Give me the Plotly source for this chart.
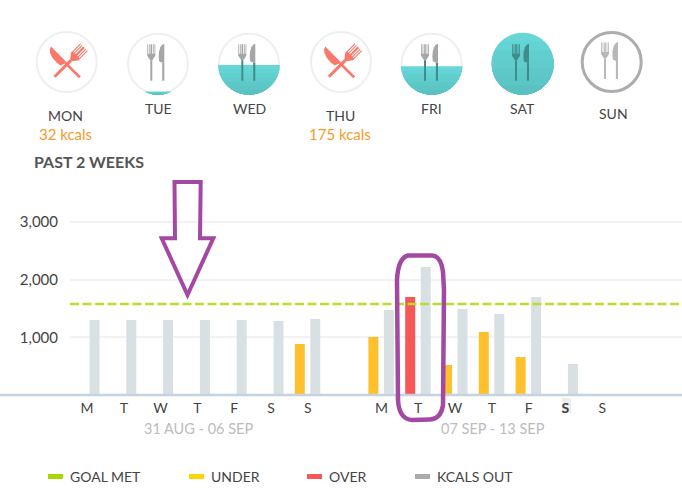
import numpy as np
import plotly.graph_objects as go

FONT = "Lato"

# chart values
slots = [0, 1, 2, 3, 4, 5, 6, 8, 9, 10, 11, 12, 13, 14]
day_letters = ["M", "T", "W", "T", "F", "S", "S", "M", "T", "W", "T", "F", "<b>S</b>", "S"]
kcals_under = [None, None, None, None, None, None, 885, 1007, None, 521, 1094, 660, None, None]
kcals_over = [None, None, None, None, None, None, None, None, 1701, None, None, None, None, None]
kcals_out = [1302, 1302, 1302, 1302, 1302, 1285, 1320, 1476, 2222, 1493, 1406, 1701, 538, None]
goal_kcals = 1580
y_ticks = [1000, 2000, 3000]
week_labels = ["31 AUG - 06 SEP", "07 SEP - 13 SEP"]

# top row of plates
plate_days = ["MON", "TUE", "WED", "THU", "FRI", "SAT", "SUN"]
plate_notes = ["32 kcals", "", "", "175 kcals", "", "", ""]
plate_states = ["over", "water", "water", "over", "water", "water", "today"]
plate_levels = [0, 0.05, 0.48, 0, 0.46, 1, 0]

legend_names = ["GOAL MET", "UNDER", "OVER", "KCALS OUT"]
legend_colors = ["#a8d800", "#ffd200", "#f75757", "#ababab"]

fig = go.Figure()

bar_w = 10 / 36.8
for vals, color, off in [
    (kcals_under, "#ffc02d", -13 / 36.8),
    (kcals_over, "#f75757", -13 / 36.8),
    (kcals_out, "#d8e0e3", 2.5 / 36.8),
]:
    fig.add_trace(go.Bar(x=slots, y=vals, width=bar_w, offset=off, marker_color=color,
                         marker_line_width=0, showlegend=False, hoverinfo="skip"))

# second pair of axes covers the whole page in pixels, for the decoration
fig.add_trace(go.Scatter(x=[0], y=[0], xaxis="x2", yaxis="y2", mode="markers",
                         marker_opacity=0, showlegend=False, hoverinfo="skip"))

shapes = []
notes = []


def poly(pts, color):
    path = "M" + " L".join(f"{x:.2f},{y:.2f}" for x, y in pts) + " Z"
    shapes.append(dict(type="path", path=path, xref="x2", yref="y2",
                       fillcolor=color, line_width=0))


def text(x, y, s, size=14, color="#444444", anchor="center"):
    notes.append(dict(x=x, y=y, text=s, xref="x2", yref="y2", showarrow=False, xanchor=anchor,
                      yanchor="middle", font=dict(family=FONT, size=size, color=color)))


def circle(cx, cy, r, fill="rgba(0,0,0,0)", line="rgba(0,0,0,0)", width=0):
    shapes.append(dict(type="circle", xref="x2", yref="y2", x0=cx - r, x1=cx + r,
                       y0=cy - r, y1=cy + r, fillcolor=fill, line=dict(color=line, width=width)))


def cap(cx, cy, r, top):
    # part of the disc below the height top
    a = np.arcsin(np.clip((top - cy) / r, -1, 1))
    t = np.linspace(a, np.pi - a, 50)
    return list(zip(cx + r * np.cos(t), cy + r * np.sin(t)))


def turn(pts, cx, cy, deg, sx=1.0, sy=1.0, shift=0.0):
    c, s = np.cos(np.radians(deg)), np.sin(np.radians(deg))
    out = []
    for x, y in pts:
        x, y = (x + shift) * sx, y * sy
        out.append((cx + x * c - y * s, cy + x * s + y * c))
    return out


FORK_HEAD = [(-4, -19.5), (-3.2, -19.5), (-3.2, -10), (-2.4, -10), (-2.4, -19.5), (-1.6, -19.5), (-1.6, -10),
             (-0.8, -10), (-0.8, -19.5), (0.8, -19.5), (0.8, -10), (1.6, -10), (1.6, -19.5), (2.4, -19.5),
             (2.4, -10), (3.2, -10), (3.2, -19.5), (4, -19.5), (4, -8), (1, -3.5), (-1, -3.5), (-4, -8)]
FORK_HANDLE = [(-1, -3.5), (1, -3.5), (1, 17), (-1, 17)]
KNIFE_HEAD = [(5.6, -20), (5.6, -1), (3.5, -1), (0.4, -2.5), (0, -7), (0.3, -12), (1.6, -16.5), (3.4, -19)]
KNIFE_HANDLE = [(3.5, -1), (5.6, -1), (5.6, 17), (3.5, 17)]


def cutlery(cx, cy, head, handle):
    # local coordinates run around the plate centre, dark below the waterline
    dx = -6.7
    poly([(cx + dx + x, cy + y) for x, y in FORK_HEAD], head)
    poly([(cx + dx + x, cy + y) for x, y in FORK_HANDLE], handle)
    kx = 0.7
    poly([(cx + kx + x, cy + y) for x, y in KNIFE_HEAD], head)
    poly([(cx + kx + x, cy + y) for x, y in KNIFE_HANDLE], handle)


def crossed(cx, cy, color):
    poly(turn(FORK_HEAD, cx + 1.6, cy + 1, 45, sx=1.35, sy=1.14), color)
    poly(turn(FORK_HANDLE, cx + 1.6, cy + 1, 45, sx=1.5, sy=1.14), color)
    poly(turn(KNIFE_HEAD, cx - 0.6, cy + 1.7, -45, sx=1.3, sy=1.14, shift=-4.5), color)
    poly(turn(KNIFE_HANDLE, cx - 0.6, cy + 1.7, -45, sx=1.3, sy=1.14, shift=-4.5), color)


plate_x = [66.7, 158, 249, 341, 431.7, 522.7, 611.7]
R = 31
for i, day in enumerate(plate_days):
    cx = plate_x[i]
    state = plate_states[i]
    level = plate_levels[i]
    if state == "over":
        cy = 62
        circle(cx, cy, R - 1, fill="white", line="#efefef", width=2)
        crossed(cx, cy, "#f9776b")
        text(cx - 1, 115.5, day)
        text(cx - 1, 134, plate_notes[i], size=15, color="#f89a2a")
    elif state == "today":
        cy = 62
        circle(cx, cy, R - 1.5, fill="white", line="#adadad", width=3)
        cutlery(cx, cy, "#b8b8b8", "#b8b8b8")
        text(cx + 2, 113.5, day)
    else:
        cy = 63.7
        circle(cx, cy, R - 1, fill="white", line="#efefef", width=2)
        top = cy + R - 2 * R * level
        # stacked caps give the soft gradient of the water
        bands = np.linspace(top, cy + R - 0.5, 8)
        for k, b in enumerate(bands):
            shade = k / 7
            col = f"rgb({102 - 14 * shade:.0f},{214 - 24 * shade:.0f},{214 - 24 * shade:.0f})"
            poly(cap(cx, cy, R, b), col)
        if level >= 1:
            cutlery(cx, cy, "#3f8c8c", "#3f8c8c")
        elif level > 0.3:
            cutlery(cx, cy, "#a6a6a6", "#3f8c8c")
        else:
            cutlery(cx, cy, "#a6a6a6", "#a6a6a6")
        text(cx, 108.5, day)

text(32, 161, "<b>PAST 2 WEEKS</b>", size=16, color="#555555", anchor="left")
text(198, 428, week_labels[0], size=14.5, color="#bcbcbc")
text(493, 428, week_labels[1], size=14.5, color="#bcbcbc")

# baseline, runs past the plot area to the page edge
shapes.append(dict(type="line", xref="x2", yref="y2", x0=0, x1=682, y0=395, y1=395,
                   line=dict(color="#c5d2e0", width=2.5)))
# grey chip behind today's letter, see-through since this layer sits on top of the tick labels
shapes.append(dict(type="rect", xref="x2", yref="y2", x0=562, x1=571, y0=398, y1=413,
                   fillcolor="rgba(0,0,0,0.07)", line_width=0))

# legend
legend_x = [48, 189, 307, 415]
for name, color, lx in zip(legend_names, legend_colors, legend_x):
    shapes.append(dict(type="rect", xref="x2", yref="y2", x0=lx, x1=lx + 15, y0=474, y1=479,
                       fillcolor=color, line_width=0))
    text(lx + 20, 476, name, anchor="left")

# purple hand drawn marks
PURPLE = "#a349a4"
arrow = [(174.5, 182), (200.7, 182), (200, 238.3), (213.3, 238.3), (187.5, 295), (161.7, 238.3), (175, 238.3)]
shapes.append(dict(type="path", xref="x2", yref="y2",
                   path="M" + " L".join(f"{x},{y}" for x, y in arrow) + " Z",
                   line=dict(color=PURPLE, width=4)))
shapes.append(dict(type="path", xref="x2", yref="y2",
                   path="M 408,255.5 L 432,255.5 Q 441,256 443,272 L 444,290 L 443,405 Q 441,419 430,419.5 "
                        "L 412,420 Q 399,419 398,400 L 397,280 Q 398,258 408,255.5 Z",
                   line=dict(color=PURPLE, width=4.5)))

fig.add_hline(y=goal_kcals, line=dict(color="#b5e02e", width=2.5, dash="9px,3.5px"), layer="above")

fig.update_layout(
    width=682, height=501, autosize=False,
    margin=dict(l=0, r=0, t=0, b=0),
    paper_bgcolor="white", plot_bgcolor="rgba(0,0,0,0)",
    barmode="overlay",
    shapes=list(fig.layout.shapes) + shapes,
    annotations=notes,
    xaxis=dict(domain=[70 / 682, 1], range=[(70 - 87) / 36.8, (682 - 87) / 36.8], tickmode="array",
               tickvals=slots, ticktext=day_letters, showgrid=False, zeroline=False, showline=False,
               ticks="", ticklabelstandoff=3, tickfont=dict(family=FONT, size=14, color="#444444"),
               anchor="y"),
    yaxis=dict(domain=[(501 - 395) / 501, (501 - 170) / 501], range=[0, (395 - 170) / 57.6 * 1000],
               tickmode="array", tickvals=y_ticks, tickformat=",", showgrid=True, gridcolor="#f2f2f2",
               gridwidth=1.5, zeroline=False, showline=False, ticks="", ticklabelstandoff=11,
               tickfont=dict(family=FONT, size=15, color="#444444"), anchor="x"),
    xaxis2=dict(domain=[0, 1], range=[0, 682], visible=False, anchor="y2"),
    yaxis2=dict(domain=[0, 1], range=[501, 0], visible=False, anchor="x2"),
)

fig.write_html("out.html", config=dict(displayModeBar=False),
               post_script="document.body.style.margin='0';")
